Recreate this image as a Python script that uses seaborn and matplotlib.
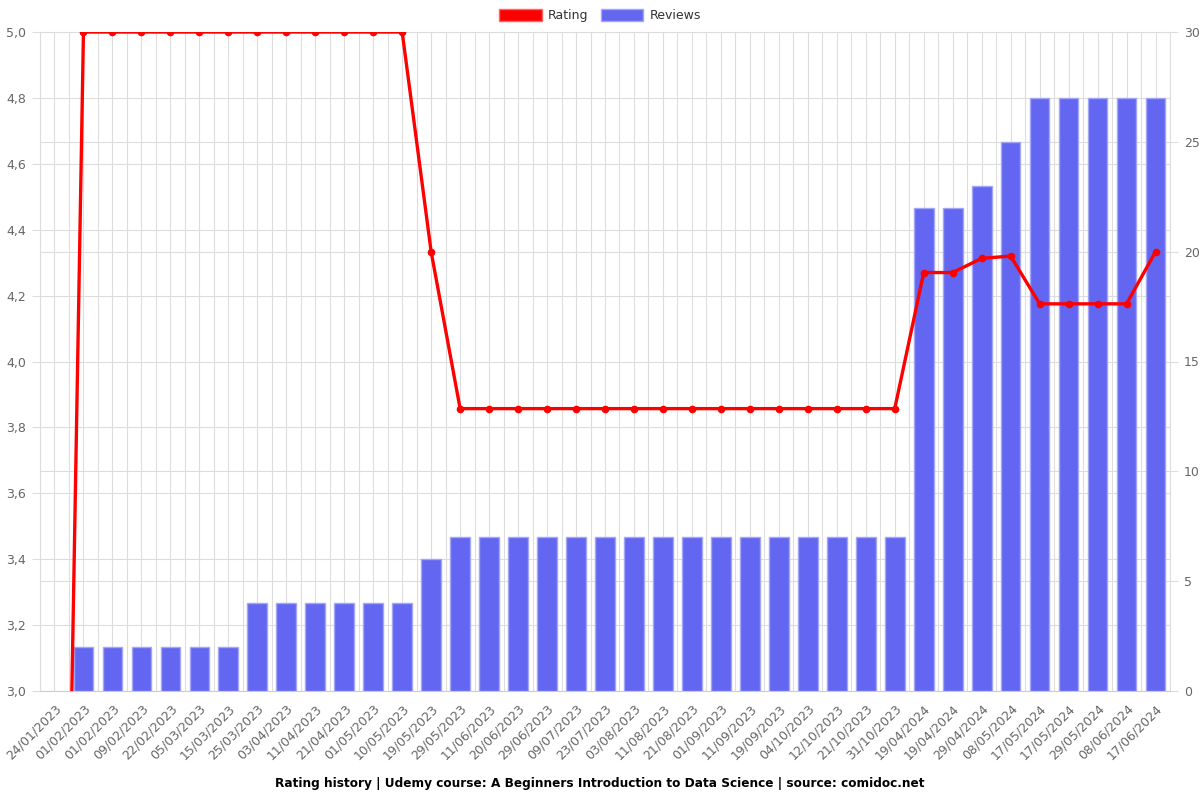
import matplotlib
matplotlib.use("Agg")
import matplotlib.pyplot as plt
import seaborn as sns
import pandas as pd
from matplotlib.patches import Patch
from matplotlib.ticker import FixedLocator, FuncFormatter, MultipleLocator

dates = ["24/01/2023", "01/02/2023", "01/02/2023", "09/02/2023", "22/02/2023", "05/03/2023",
         "15/03/2023", "25/03/2023", "03/04/2023", "11/04/2023", "21/04/2023", "01/05/2023",
         "10/05/2023", "19/05/2023", "29/05/2023", "11/06/2023", "20/06/2023", "29/06/2023",
         "09/07/2023", "23/07/2023", "03/08/2023", "11/08/2023", "21/08/2023", "01/09/2023",
         "11/09/2023", "19/09/2023", "04/10/2023", "12/10/2023", "21/10/2023", "31/10/2023",
         "19/04/2024", "19/04/2024", "29/04/2024", "08/05/2024", "17/05/2024", "17/05/2024",
         "29/05/2024", "08/06/2024", "17/06/2024"]
ratings = [0, 5.0, 5.0, 5.0, 5.0, 5.0, 5.0, 5.0, 5.0, 5.0, 5.0, 5.0, 5.0,
           4.333,
           3.857, 3.857, 3.857, 3.857, 3.857, 3.857, 3.857, 3.857,
           3.857, 3.857, 3.857, 3.857, 3.857, 3.857, 3.857, 3.857,
           4.27, 4.27, 4.313, 4.32,
           4.175, 4.175, 4.175, 4.175, 4.333]
reviews = [0, 2, 2, 2, 2, 2, 2, 4, 4, 4, 4, 4, 4,
           6,
           7, 7, 7, 7, 7, 7, 7, 7,
           7, 7, 7, 7, 7, 7, 7, 7,
           22, 22, 23, 25,
           27, 27, 27, 27, 27]

df = pd.DataFrame({"pos": range(len(dates)), "date": dates,
                   "rating": ratings, "reviews": reviews})

sns.set_style("white")
plt.rcParams["font.family"] = ["DejaVu Sans"]

BAR = "#6366f1"
BAR_EDGE = "#a3a6f6"
GRID = "#dddddd"
TXT = "#666666"

fig = plt.figure(figsize=(12, 8), dpi=100)
ax = fig.add_axes([40 / 1200, 1 - 691 / 800, 1130 / 1200, 659 / 800])

# bars (reviews) on the bottom axes, right-side scale
sns.barplot(data=df, x="pos", y="reviews", ax=ax, color=BAR, saturation=1,
            width=0.68, edgecolor=BAR_EDGE, linewidth=1, zorder=3)
for p in ax.patches:
    if p.get_height() == 0:
        p.set_linewidth(0)
ax.set_ylim(0, 30)
ax.set_xlim(-0.5, len(dates) - 0.5)

# line (rating) on the twin axes, left-side scale
ax2 = ax.twinx()
sns.lineplot(data=df, x="pos", y="rating", ax=ax2, color="#ff0000", linewidth=2.4,
             marker="o", markersize=5.5, markeredgewidth=0, zorder=5)
ax2.set_ylim(3.0, 5.0)
ax2.set_xlim(-0.5, len(dates) - 0.5)

# bars axis ticks to the right
ax.yaxis.tick_right()
ax.yaxis.set_label_position("right")
ax.yaxis.set_major_locator(MultipleLocator(5))
ax.yaxis.set_minor_locator(FixedLocator([3 * i for i in range(11)]))
ax.set_xticks(range(len(dates)))
ax.set_xticklabels(dates, rotation=45, ha="right", rotation_mode="anchor")
ax.xaxis.set_minor_locator(FixedLocator([i - 0.5 for i in range(len(dates) + 1)]))
ax.tick_params(axis="x", which="major", length=0, pad=8, labelsize=9, labelcolor=TXT)
ax.tick_params(axis="x", which="minor", length=6, color=GRID)
ax.tick_params(axis="y", which="major", length=6, color=GRID, labelsize=9, labelcolor=TXT, pad=4)
ax.tick_params(axis="y", which="minor", length=0)
ax.grid(True, which="both", color=GRID, linewidth=0.8, zorder=0)
ax.set_axisbelow(True)
ax.set_xlabel("")
ax.set_ylabel("")
for s in ax.spines.values():
    s.set_color(GRID)
ax.spines["bottom"].set_color("#cccccc")

# rating axis ticks to the left
ax2.yaxis.tick_left()
ax2.yaxis.set_label_position("left")
ax2.yaxis.set_major_locator(MultipleLocator(0.2))
ax2.yaxis.set_major_formatter(FuncFormatter(lambda v, p: f"{v:.1f}".replace(".", ",")))
ax2.tick_params(axis="y", length=6, color=GRID, labelsize=9, labelcolor=TXT, pad=4)
ax2.set_ylabel("")
ax2.set_xlabel("")
ax2.grid(False)
for s in ax2.spines.values():
    s.set_visible(False)

handles = [Patch(facecolor="#ff0000", edgecolor="#ff6666"),
           Patch(facecolor=BAR, edgecolor=BAR_EDGE)]
fig.legend(handles, ["Rating", "Reviews"], loc="upper center", ncol=2, frameon=False,
           bbox_to_anchor=(0.5, 1.003), fontsize=9, handlelength=3.4, handleheight=1.1,
           columnspacing=1.0, handletextpad=0.5, labelcolor="#333333")

fig.text(0.5, 0.021, "Rating history | Udemy course: A Beginners Introduction to Data Science | source: comidoc.net",
         ha="center", va="center", fontsize=8.75, fontweight="bold", color="#000000")

fig.savefig("out.png", dpi=100)
